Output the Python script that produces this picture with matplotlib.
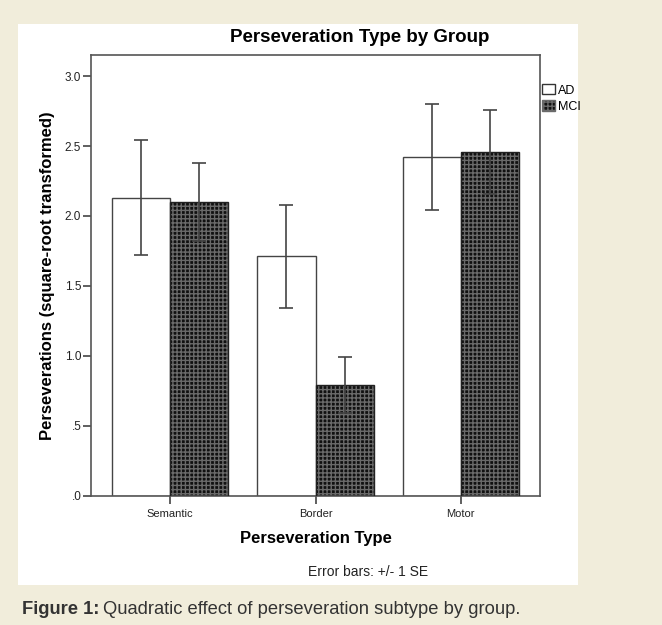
import numpy as np
import matplotlib
matplotlib.use("Agg")
import matplotlib.pyplot as plt
from matplotlib.patches import Rectangle, Patch

# ==============================
# DATA
# ==============================
categories = ["Semantic", "Border", "Motor"]
groups = ["AD", "MCI"]
ad_means = [2.13, 1.71, 2.42]
ad_se = [0.41, 0.37, 0.38]
mci_means = [2.10, 0.79, 2.46]
mci_se = [0.28, 0.20, 0.30]
yticks = [0.0, 0.5, 1.0, 1.5, 2.0, 2.5, 3.0]
ytick_labels = [".0", ".5", "1.0", "1.5", "2.0", "2.5", "3.0"]

plt.rcParams['font.family'] = ['Liberation Sans', 'DejaVu Sans']
plt.rcParams['hatch.linewidth'] = 1.0

W, H = 662, 625
fig = plt.figure(figsize=(W / 100, H / 100), dpi=100)
fig.patch.set_facecolor("#f1eddb")

# white panel behind the chart
fig.patches.append(Rectangle((18 / W, 1 - 585 / H), 560 / W, 561 / H,
                             transform=fig.transFigure, facecolor="white",
                             edgecolor="none", zorder=-5))

ax = fig.add_axes([91 / W, 1 - 495.5 / H, 449 / W, 440.5 / H])
ax.set_zorder(2)
ax.set_facecolor("white")

x = np.arange(len(categories))
bw = 0.40
err_kw = dict(ecolor="#444444", elinewidth=1.2, capsize=5, capthick=1.2)

ax.bar(x - bw / 2, ad_means, bw, color="white", edgecolor="#444444",
       linewidth=1.0, yerr=ad_se, error_kw=err_kw, zorder=2)
# MCI bars: dark checkered fill, then outline on top
ax.bar(x + bw / 2, mci_means, bw, color="#111111", edgecolor="#6a6a6a",
       linewidth=0.0, hatch="++++", zorder=2)
ax.bar(x + bw / 2, mci_means, bw, fill=False, edgecolor="#222222",
       linewidth=1.0, yerr=mci_se, error_kw=err_kw, zorder=3)

ax.set_xlim(-0.545, 2.545)
ax.set_ylim(0, 3.151)
ax.set_yticks(yticks)
ax.set_yticklabels(ytick_labels)
ax.set_xticks(x)
ax.set_xticklabels(categories)
ax.tick_params(axis="both", direction="out", length=6, width=1.2,
               color="#444444", labelsize=8, labelcolor="#222222")
ax.tick_params(axis="y", pad=1, labelsize=8.5)
for s in ax.spines.values():
    s.set_color("#555555")
    s.set_linewidth(1.2)

ax.set_ylabel("Perseverations (square-root transformed)", fontsize=12,
              fontweight="bold", labelpad=7)
ax.set_xlabel("Perseveration Type", fontsize=12, fontweight="bold", labelpad=9)

fig.text(360 / W, 1 - 37 / H, "Perseveration Type by Group", ha="center",
         va="center", fontsize=13.5, fontweight="bold")
fig.text(368 / W, 1 - 572 / H, "Error bars: +/- 1 SE", ha="center",
         va="center", fontsize=10, color="#222222")

# legend outside on the right
handles = [Patch(facecolor="white", edgecolor="#333333", label="AD"),
           Patch(facecolor="#111111", edgecolor="#6a6a6a", hatch="++++", label="MCI")]
fig.legend(handles=handles, loc="upper left", bbox_to_anchor=(542 / W, 1 - 84 / H),
           frameon=False, fontsize=9, handlelength=1.0, handleheight=0.9,
           handletextpad=0.25, labelspacing=0.3, borderaxespad=0, borderpad=0)

# caption
cap1 = fig.text(22 / W, 1 - 609 / H, "Figure 1:", fontsize=13.2, fontweight="bold",
                color="#333333", va="center")
fig.canvas.draw()
bb = cap1.get_window_extent()
fig.text((bb.x1 + 4) / W, 1 - 609 / H, "Quadratic effect of perseveration subtype by group.",
         fontsize=13.2, color="#333333", va="center")

fig.savefig("out.png", dpi=100, facecolor=fig.get_facecolor())
